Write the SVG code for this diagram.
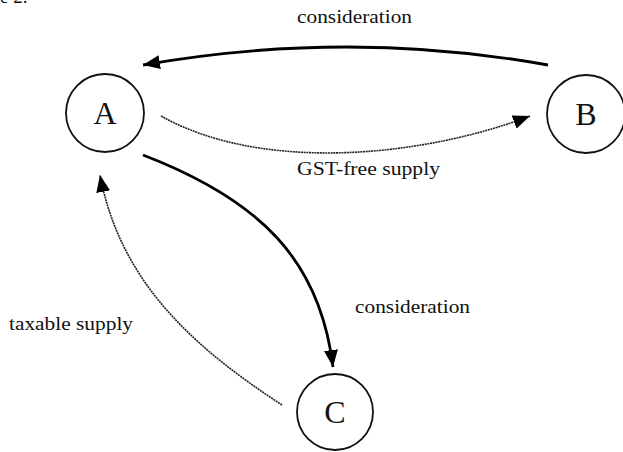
<svg xmlns="http://www.w3.org/2000/svg" width="623" height="452" viewBox="0 0 623 452">
<style>
.node{fill:#fff;stroke:#111;stroke-width:1.8}
.lbl{font-family:"Liberation Serif","Times New Roman",serif;font-size:32px;fill:#111;text-anchor:middle}
.txt{font-family:"Liberation Serif","Times New Roman",serif;font-size:19px;fill:#111}
.thick{fill:none;stroke:#000;stroke-width:2.8}
.thin{fill:none;stroke:#222;stroke-width:1.6;stroke-dasharray:2 0.7}
</style>
<defs>
<marker id="ah" markerUnits="userSpaceOnUse" markerWidth="18" markerHeight="14" refX="17" refY="7" orient="auto">
<path d="M0,0 L17,7 L0,14 Z" fill="#000"/>
</marker>
</defs>
<rect width="623" height="452" fill="#fff"/>
<text class="txt" x="0" y="3" font-size="20">e 2.</text>
<g id="connectors">
<path class="thick" d="M548,65 Q348.5,29 143,65" marker-end="url(#ah)"/>
<path class="thin" d="M161,116 C260,172 420,158 530,116" marker-end="url(#ah)"/>
<path class="thick" d="M143,155 C260,200 320,260 333,367" marker-end="url(#ah)"/>
<path class="thin" d="M282,405 C190,345 120,280 100,175" marker-end="url(#ah)"/>
</g>
<g id="labels">
<text class="txt" x="297" y="23" textLength="115" lengthAdjust="spacingAndGlyphs">consideration</text>
<text class="txt" x="297" y="175" textLength="143" lengthAdjust="spacingAndGlyphs">GST-free supply</text>
<text class="txt" x="355" y="313" textLength="115" lengthAdjust="spacingAndGlyphs">consideration</text>
<text class="txt" x="9" y="330" textLength="124" lengthAdjust="spacingAndGlyphs">taxable supply</text>
</g>
<g id="node-A">
<circle class="node" cx="105" cy="113" r="39"/>
<text class="lbl" x="105" y="124">A</text>
</g>
<g id="node-B">
<circle class="node" cx="586" cy="114" r="39"/>
<text class="lbl" x="586" y="125">B</text>
</g>
<g id="node-C">
<circle class="node" cx="335" cy="412" r="38"/>
<text class="lbl" x="335" y="423">C</text>
</g>
</svg>
